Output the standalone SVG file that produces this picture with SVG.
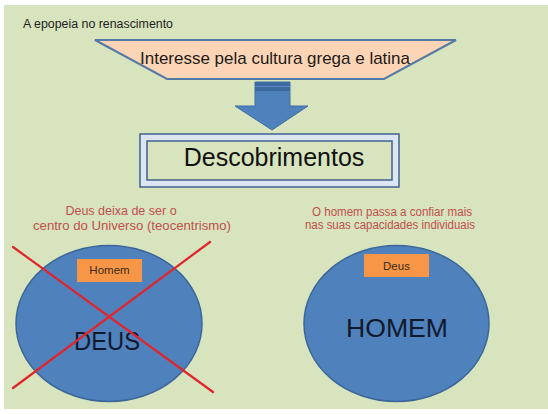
<svg xmlns="http://www.w3.org/2000/svg" width="548" height="414" viewBox="0 0 548 414">
  <style>
    text { font-family: "Liberation Sans", Arial, sans-serif; }
    .red { fill: #c0504d; font-size: 12.5px; text-anchor: middle; }
    .big { fill: #111a2c; font-size: 26px; text-anchor: middle; }
    .small { fill: #3a2a1a; font-size: 11.5px; text-anchor: middle; }
    .tag { fill: #f79646; }
    .circ { fill: #4f81bd; stroke: #3b6699; stroke-width: 1.5; }
    .cross { stroke: #e1252c; stroke-width: 2.2; stroke-linecap: round; }
  </style>
  <rect x="0" y="0" width="548" height="414" fill="#ffffff"/>
  <rect x="4" y="5" width="544" height="404" fill="#d7e4bd"/>

  <g id="title">
    <text x="23" y="28" font-size="12" fill="#222" textLength="150" lengthAdjust="spacingAndGlyphs">A epopeia no renascimento</text>
  </g>

  <g id="interesse">
    <polygon points="95,40 456,40 384,79 167,79" fill="#fbd5b5" stroke="#567aa6" stroke-width="2"/>
    <text x="275" y="64" font-size="17" fill="#1e1a18" text-anchor="middle" textLength="270" lengthAdjust="spacingAndGlyphs">Interesse pela cultura grega e latina</text>
  </g>

  <g id="descobrimentos">
    <rect x="140" y="134" width="259" height="53" fill="#dce6f2" stroke="#42628e" stroke-width="1.5"/>
    <rect x="147" y="141" width="245" height="39" fill="#d7e4bd" stroke="#42628e" stroke-width="1.5"/>
    <text x="274" y="166" font-size="25" fill="#111" text-anchor="middle">Descobrimentos</text>
  </g>

  <g id="label-left">
    <text class="red" x="121" y="215">Deus deixa de ser o</text>
    <text class="red" x="132" y="230" textLength="198" lengthAdjust="spacingAndGlyphs">centro do Universo (teocentrismo)</text>
  </g>

  <g id="label-right">
    <text class="red" x="392" y="216" textLength="160" lengthAdjust="spacingAndGlyphs">O homem passa a confiar mais</text>
    <text class="red" x="390" y="229" textLength="170" lengthAdjust="spacingAndGlyphs">nas suas capacidades individuais</text>
  </g>

  <g id="deus-circle">
    <ellipse class="circ" cx="109" cy="323.5" rx="93" ry="78"/>
    <rect class="tag" x="77" y="259" width="65" height="23"/>
    <text class="small" x="109.5" y="274">Homem</text>
    <text class="big" x="107" y="350" textLength="66" lengthAdjust="spacingAndGlyphs">DEUS</text>
  </g>

  <g id="homem-circle">
    <ellipse class="circ" cx="396.5" cy="323.5" rx="92.5" ry="78"/>
    <rect class="tag" x="364" y="254" width="65" height="23"/>
    <text class="small" x="396.5" y="269.5">Deus</text>
    <text class="big" x="397" y="337" textLength="102" lengthAdjust="spacingAndGlyphs">HOMEM</text>
  </g>

  <g id="connectors">
    <g id="arrow">
      <polygon points="255,82 290,82 290,106 308,106 272,130 235,106 255,106" fill="#4f81bd" stroke="#3f6ea3" stroke-width="1"/>
      <rect x="255" y="82" width="35" height="9" fill="#3d6a9e"/>
      <line x1="255" y1="86.5" x2="290" y2="86.5" stroke="#5a8ac4" stroke-width="1.2"/>
    </g>
    <g id="cross">
      <line class="cross" x1="13" y1="247" x2="213" y2="392"/>
      <line class="cross" x1="13" y1="388" x2="210" y2="242"/>
    </g>
  </g>
</svg>
